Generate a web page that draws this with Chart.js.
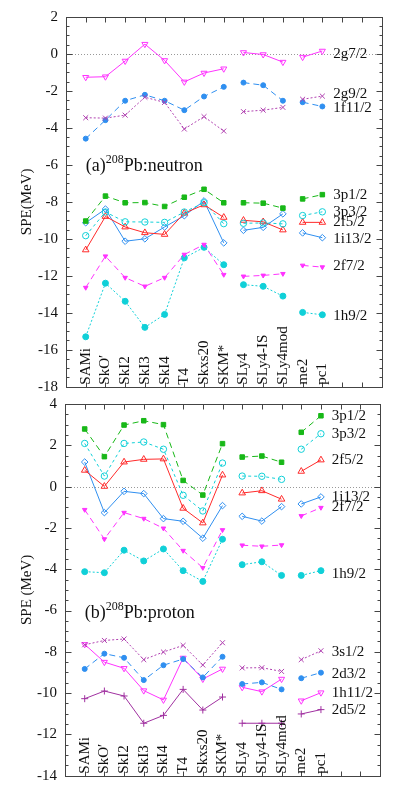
<!DOCTYPE html>
<html>
<head>
<meta charset="utf-8">
<script src="https://cdn.jsdelivr.net/npm/chart.js@4/dist/chart.umd.min.js"></script>
<style>
  body { margin: 0; background: #fff; width: 409px; height: 806px; position: relative; overflow: hidden; }
  canvas { position: absolute; left: 0; }
</style>
</head>
<body>
<canvas id="neutronChart" width="409" height="420" style="top:0"></canvas>
<canvas id="protonChart" width="409" height="426" style="top:380px"></canvas>
<script>
// Skyrme / RMF parameter sets along the x axis
const models = ['SAMi', 'SkO\u2032', 'SkI2', 'SkI3', 'SkI4', 'T4', 'Skxs20', 'SKM*', 'SLy4', 'SLy4-IS', 'SLy4mod', 'me2', 'pc1'];

// (a) 208Pb neutron single particle energies (MeV)
const n2g72  = [-1.26, -1.23, -0.38, 0.53, -0.35, -1.51, -1.03, -0.80, 0.08, -0.03, -0.44, -0.17, 0.16];
const n2g92  = [-3.45, -3.47, -3.31, -2.34, -2.62, -4.06, -3.39, -4.17, -3.12, -3.04, -2.89, -2.45, -2.28];
const n1f112 = [-4.58, -3.58, -2.53, -2.21, -2.53, -3.04, -2.30, -1.78, -1.55, -1.69, -2.53, -2.61, -2.84];
const n3p12  = [-9.04, -7.69, -8.05, -8.04, -8.25, -7.75, -7.32, -8.05, -8.05, -8.07, -8.34, -7.84, -7.61];
const n3p32  = [-9.83, -8.55, -9.08, -9.09, -9.11, -8.55, -8.05, -9.18, -9.16, -9.14, -9.19, -8.74, -8.54];
const n2f52  = [-10.6, -8.79, -9.36, -9.67, -9.76, -8.61, -8.16, -8.84, -9.00, -9.08, -9.52, -9.11, -9.11];
const n1i132 = [-9.13, -8.39, -10.13, -10.0, -9.36, -8.75, -7.95, -10.22, -9.54, -9.38, -8.65, -9.68, -9.94];
const n2f72  = [-12.64, -10.94, -12.1, -12.57, -12.1, -10.85, -10.31, -11.94, -12.03, -11.98, -11.89, -11.44, -11.53];
const n1h92  = [-15.3, -12.4, -13.38, -14.79, -14.09, -11.03, -10.46, -11.4, -12.48, -12.57, -13.1, -13.98, -14.11];

// (b) 208Pb proton single particle energies (MeV)
const p3p12  = [2.79, 1.45, 2.98, 3.19, 3.00, 0.30, -0.41, 2.08, 1.43, 1.48, 1.18, 2.63, 3.43];
const p3p32  = [2.09, 0.51, 2.09, 2.16, 1.81, -0.42, -1.18, 1.14, 0.51, 0.50, 0.35, 1.81, 2.56];
const p2f52  = [0.79, 0.01, 1.19, 1.32, 1.34, -1.05, -1.76, 0.56, -0.31, -0.20, -0.61, 0.74, 1.29];
const p1i132 = [1.19, -1.26, -0.23, -0.34, -1.55, -1.68, -2.50, -0.92, -1.44, -1.67, -0.97, -0.84, -0.50];
const p2f72  = [-1.12, -2.54, -1.26, -1.55, -2.02, -3.10, -3.93, -2.10, -2.84, -2.89, -2.83, -1.42, -1.02];
const p1h92  = [-4.12, -4.17, -3.08, -3.60, -3.02, -4.07, -4.59, -2.55, -3.78, -3.64, -4.30, -4.30, -4.07];
const p3s12  = [-7.66, -7.45, -7.38, -8.38, -8.01, -7.69, -8.64, -7.56, -8.78, -8.77, -8.95, -8.38, -7.95];
const p2d32  = [-8.83, -8.09, -8.29, -9.37, -8.65, -8.35, -9.24, -8.24, -9.56, -9.48, -9.82, -9.28, -9.01];
const p1h112 = [-7.64, -8.50, -8.80, -9.88, -10.33, -8.30, -9.32, -8.83, -9.72, -9.93, -9.32, -10.37, -9.98];
const p2d52  = [-10.27, -9.90, -10.14, -11.46, -11.08, -9.82, -10.82, -10.19, -11.46, -11.46, -11.46, -11.01, -10.80];

// where the level names sit on the right (MeV)
const neutronLabelY = { '2g7/2': 0.0, '2g9/2': -2.15, '1f11/2': -2.9, '3p1/2': -7.64, '3p3/2': -8.54, '2f5/2': -9.11, '1i13/2': -9.99, '2f7/2': -11.5, '1h9/2': -14.17 };
const protonLabelY = { '3p1/2': 3.43, '3p3/2': 2.53, '2f5/2': 1.27, '1i13/2': -0.49, '2f7/2': -1.0, '1h9/2': -4.25, '3s1/2': -8.03, '2d3/2': -9.07, '1h11/2': -10.0, '2d5/2': -10.82 };

const serif = "'Liberation Serif', 'Times New Roman', serif";
const gapAfter = [7, 10]; // lines break between groups of models

const styles = {
  '2g7/2':  { color: '#ff33ff', dash: [],     point: 'triangle', rot: 180, r: 3.5, fill: false },
  '2g9/2':  { color: '#b040b0', dash: [2, 2], point: 'crossRot', r: 3.5, fill: false },
  '1f11/2': { color: '#2f8ff0', dash: [6, 4], point: 'circle',   r: 2.5, fill: true },
  '3p1/2':  { color: '#18b818', dash: [6, 4], point: 'rect',     r: 3.2, fill: true },
  '3p3/2':  { color: '#10d0d8', dash: [3, 3], point: 'circle',   r: 3.2, fill: false },
  '2f5/2':  { color: '#ff2a2a', dash: [],     point: 'triangle', r: 3.8, fill: false },
  '1i13/2': { color: '#2f8ff0', dash: [],     point: 'rectRot',  r: 3.3, fill: false },
  '2f7/2':  { color: '#ff33ff', dash: [6, 4], point: 'triangle', rot: 180, r: 2.6, fill: true },
  '1h9/2':  { color: '#10d0d8', dash: [2, 2], point: 'circle',   r: 3.0, fill: true },
  '3s1/2':  { color: '#b040b0', dash: [2, 2], point: 'crossRot', r: 3.5, fill: false },
  '2d3/2':  { color: '#2f8ff0', dash: [6, 4], point: 'circle',   r: 2.5, fill: true },
  '1h11/2': { color: '#ff33ff', dash: [],     point: 'triangle', rot: 180, r: 3.5, fill: false },
  '2d5/2':  { color: '#a030a0', dash: [],     point: 'cross',    r: 3.5, fill: false }
};

function makeDataset(name, vals) {
  const st = styles[name];
  return {
    label: name,
    data: vals.map((v, i) => ({ x: i, y: v })),
    borderColor: st.color,
    backgroundColor: st.color,
    borderWidth: 1,
    borderDash: st.dash,
    pointStyle: st.point,
    pointRadius: st.r,
    pointRotation: st.rot || 0,
    pointBorderColor: st.color,
    pointBackgroundColor: st.fill ? st.color : 'rgba(255,255,255,0)',
    pointBorderWidth: 1,
    tension: 0,
    segment: {
      borderColor: ctx => gapAfter.includes(ctx.p0DataIndex) ? 'rgba(0,0,0,0)' : undefined
    }
  };
}

// frame, inward ticks, zero line, model names, level names, panel title
const framePlugin = {
  id: 'frame',
  beforeDatasetsDraw(chart) {
    const { ctx, chartArea: a, scales: { y } } = chart;
    const y0 = y.getPixelForValue(0);
    ctx.save();
    ctx.strokeStyle = '#999';
    ctx.lineWidth = 1;
    ctx.setLineDash([1, 2]);
    ctx.beginPath();
    ctx.moveTo(a.left, Math.round(y0) + 0.5);
    ctx.lineTo(a.right, Math.round(y0) + 0.5);
    ctx.stroke();
    ctx.restore();
  },
  afterDraw(chart, args, opts) {
    const { ctx, chartArea: a, scales: { x, y } } = chart;
    ctx.save();
    ctx.strokeStyle = '#444';
    ctx.lineWidth = 1;
    ctx.setLineDash([]);
    const L = Math.round(a.left) + 0.5, R = Math.round(a.right) + 0.5;
    const T = Math.round(a.top) + 0.5, B = Math.round(a.bottom) + 0.5;
    ctx.strokeRect(L, T, R - L, B - T);

    ctx.beginPath();
    for (let v = y.min; v <= y.max + 1e-6; v += 0.5) {
      const py = Math.round(y.getPixelForValue(v)) + 0.5;
      const len = Math.abs(v % 2) < 1e-6 ? 6 : 3;
      ctx.moveTo(L, py); ctx.lineTo(L + len, py);
      ctx.moveTo(R, py); ctx.lineTo(R - len, py);
    }
    for (let i = 0; i <= 14; i++) {
      const px = Math.round(x.getPixelForValue(i)) + 0.5;
      ctx.moveTo(px, T); ctx.lineTo(px, T + 5);
      ctx.moveTo(px, B); ctx.lineTo(px, B - 5);
    }
    ctx.stroke();

    // model names, rotated, standing on the bottom axis
    ctx.fillStyle = '#111';
    ctx.font = '15px ' + serif;
    ctx.textAlign = 'left';
    ctx.textBaseline = 'middle';
    models.forEach((m, i) => {
      ctx.save();
      ctx.translate(x.getPixelForValue(i), a.bottom - 2);
      ctx.rotate(-Math.PI / 2);
      ctx.fillText(m, 0, 0);
      ctx.restore();
    });

    // level names
    Object.entries(opts.labels).forEach(([name, v]) => {
      ctx.fillText(name, x.getPixelForValue(12.55), y.getPixelForValue(v));
    });

    // panel title with superscript mass number
    ctx.textBaseline = 'alphabetic';
    let tx = x.getPixelForValue(0);
    const ty = y.getPixelForValue(-6.35);
    ctx.font = '18px ' + serif;
    ctx.fillText(opts.tag, tx, ty);
    tx += ctx.measureText(opts.tag).width;
    ctx.font = '12px ' + serif;
    ctx.fillText('208', tx, ty - 8);
    tx += ctx.measureText('208').width;
    ctx.font = '18px ' + serif;
    ctx.fillText('Pb:' + opts.nucleon, tx, ty);
    ctx.restore();
  }
};

function makePanel(canvasId, series, yMin, yMax, yTitle, layout, frameOpts) {
  const ctx = document.getElementById(canvasId).getContext('2d');
  return new Chart(ctx, {
    type: 'line',
    data: { datasets: series.map(([name, vals]) => makeDataset(name, vals)) },
    options: {
      responsive: false,
      animation: false,
      devicePixelRatio: 1,
      layout: { padding: layout.padding },
      plugins: {
        legend: { display: false },
        tooltip: { enabled: false },
        frame: frameOpts
      },
      scales: {
        x: { type: 'linear', min: -1, max: 15, display: false },
        y: {
          type: 'linear',
          min: yMin,
          max: yMax,
          afterFit: s => { s.width = layout.axisWidth; },
          grid: { display: false, drawTicks: false },
          border: { display: false },
          ticks: { stepSize: 2, padding: 8, color: '#111', font: { family: serif, size: 15 } },
          title: { display: true, text: yTitle, color: '#111', font: { family: serif, size: 15 }, padding: { top: 18 } }
        }
      }
    },
    plugins: [framePlugin]
  });
}

makePanel('neutronChart', [
  ['2g7/2', n2g72], ['2g9/2', n2g92], ['1f11/2', n1f112],
  ['3p1/2', n3p12], ['3p3/2', n3p32], ['2f5/2', n2f52], ['1i13/2', n1i132],
  ['2f7/2', n2f72], ['1h9/2', n1h92]
], -18, 2, 'SPE(MeV)',
  { axisWidth: 66, padding: { top: 15, right: 27.5, bottom: 33.3, left: 0 } },
  { labels: neutronLabelY, tag: '(a)', nucleon: 'neutron' });

makePanel('protonChart', [
  ['3p1/2', p3p12], ['3p3/2', p3p32], ['2f5/2', p2f52], ['1i13/2', p1i132],
  ['2f7/2', p2f72], ['1h9/2', p1h92], ['3s1/2', p3s12], ['2d3/2', p2d32],
  ['1h11/2', p1h112], ['2d5/2', p2d52]
], -14, 4, 'SPE (MeV)',
  { axisWidth: 65, padding: { top: 24, right: 29, bottom: 30.3, left: 0 } },
  { labels: protonLabelY, tag: '(b)', nucleon: 'proton' });
</script>
</body>
</html>
